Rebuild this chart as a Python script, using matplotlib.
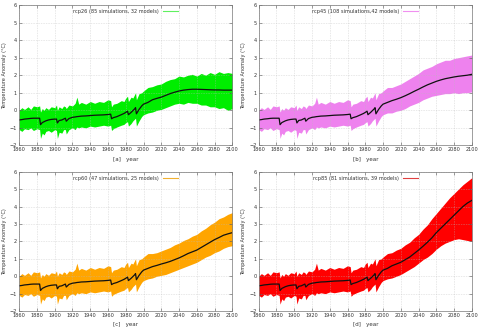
import matplotlib
matplotlib.use("Agg")
import matplotlib.pyplot as plt
import numpy as np

# ---------------- data ----------------
years_hist = [1860, 1863, 1866, 1870, 1873, 1876, 1880, 1883, 1884, 1886, 1888, 1890, 1893,
              1896, 1900, 1902, 1903, 1905, 1908, 1910, 1912, 1913, 1916, 1920, 1923, 1925,
              1927, 1930, 1935, 1940, 1945, 1950, 1955, 1960, 1963, 1964, 1966, 1970, 1975,
              1978, 1980, 1982, 1983, 1986, 1988, 1990, 1991, 1992, 1995, 1998, 2000, 2005]
mean_hist = [-0.55, -0.53, -0.5, -0.48, -0.46, -0.45, -0.45, -0.45, -0.82, -0.7, -0.65, -0.6, -0.55,
             -0.52, -0.5, -0.5, -0.72, -0.58, -0.55, -0.5, -0.45, -0.62, -0.47, -0.4, -0.38, -0.36,
             -0.35, -0.33, -0.32, -0.3, -0.28, -0.27, -0.26, -0.24, -0.22, -0.48, -0.42, -0.36, -0.25,
             -0.18, -0.12, -0.05, -0.25, -0.12, -0.02, 0.08, 0.15, -0.2, 0.05, 0.25, 0.35, 0.45]
upper_hist = [0.0, 0.15, 0.05, 0.2, 0.05, 0.25, 0.2, 0.25, -0.1, 0.1, 0.0, 0.15, 0.05,
              0.2, 0.15, 0.3, 0.0, 0.2, 0.1, 0.25, 0.2, 0.1, 0.3, 0.25, 0.4, 0.75,
              0.35, 0.45, 0.35, 0.5, 0.4, 0.5, 0.45, 0.6, 0.55, 0.2, 0.35, 0.4, 0.55,
              0.5, 0.7, 0.8, 0.5, 0.75, 0.7, 0.9, 1.0, 0.6, 0.95, 1.0, 1.1, 1.3]
lower_hist = [-1.1, -1.2, -1.05, -1.1, -1.0, -1.15, -1.05, -1.1, -1.6, -1.3, -1.4, -1.2, -1.15,
              -1.25, -1.1, -1.15, -1.6, -1.25, -1.3, -1.1, -1.1, -1.35, -1.1, -1.0, -1.1, -0.95,
              -1.0, -0.95, -1.0, -0.9, -0.95, -0.9, -0.85, -0.9, -0.85, -1.15, -1.05, -0.95, -0.85,
              -0.8, -0.7, -0.65, -0.9, -0.75, -0.6, -0.5, -0.45, -0.9, -0.6, -0.35, -0.25, -0.15]

years_fut = [2010, 2015, 2020, 2025, 2030, 2035, 2040, 2045, 2050, 2055, 2060, 2065, 2070,
             2075, 2080, 2085, 2090, 2095, 2100]

rcp26_mean = [0.6, 0.68, 0.75, 0.85, 0.95, 1.03, 1.1, 1.15, 1.18, 1.2, 1.2, 1.19, 1.18,
              1.17, 1.16, 1.16, 1.15, 1.15, 1.15]
rcp26_upper = [1.35, 1.45, 1.5, 1.65, 1.75, 1.8, 1.95, 1.9, 2.0, 2.05, 1.95, 2.1, 2.0,
               2.15, 2.05, 2.2, 2.1, 2.15, 2.1]
rcp26_lower = [-0.1, 0.0, 0.05, 0.15, 0.25, 0.35, 0.4, 0.35, 0.45, 0.4, 0.4, 0.3, 0.3,
               0.2, 0.2, 0.1, 0.15, 0.0, 0.1]

rcp45_mean = [0.55, 0.63, 0.72, 0.83, 0.95, 1.08, 1.2, 1.33, 1.45, 1.55, 1.65, 1.73, 1.8,
              1.85, 1.9, 1.94, 1.97, 2.0, 2.05]
rcp45_upper = [1.3, 1.4, 1.5, 1.65, 1.8, 1.95, 2.1, 2.3, 2.4, 2.5, 2.65, 2.75, 2.85,
               2.85, 2.95, 3.0, 3.05, 3.1, 3.15]
rcp45_lower = [-0.15, -0.05, 0.0, 0.1, 0.25, 0.35, 0.45, 0.6, 0.7, 0.8, 0.85, 0.9, 0.95,
               0.95, 1.0, 0.95, 1.0, 1.0, 1.05]

rcp60_mean = [0.55, 0.62, 0.7, 0.77, 0.85, 0.95, 1.05, 1.17, 1.3, 1.4, 1.5, 1.65, 1.8,
              1.95, 2.1, 2.22, 2.35, 2.43, 2.5]
rcp60_upper = [1.3, 1.35, 1.45, 1.55, 1.65, 1.8, 1.9, 2.05, 2.15, 2.3, 2.4, 2.6, 2.75,
               2.95, 3.1, 3.3, 3.4, 3.55, 3.65]
rcp60_lower = [-0.1, 0.0, 0.05, 0.1, 0.2, 0.3, 0.4, 0.5, 0.6, 0.7, 0.8, 0.95, 1.1,
               1.2, 1.35, 1.45, 1.6, 1.7, 1.75]

rcp85_mean = [0.6, 0.7, 0.8, 0.95, 1.1, 1.3, 1.5, 1.72, 1.95, 2.2, 2.5, 2.75, 3.0,
              3.25, 3.5, 3.75, 4.0, 4.2, 4.35]
rcp85_upper = [1.35, 1.5, 1.6, 1.8, 1.95, 2.2, 2.4, 2.7, 2.95, 3.3, 3.6, 3.9, 4.2,
               4.5, 4.75, 5.0, 5.25, 5.45, 5.65]
rcp85_lower = [-0.1, 0.0, 0.1, 0.25, 0.4, 0.55, 0.75, 0.95, 1.1, 1.3, 1.55, 1.75, 1.9,
               2.0, 2.1, 2.15, 2.1, 2.05, 2.0]

labels = ["rcp26 (85 simulations, 32 models)", "rcp45 (108 simulations,42 models)",
          "rcp60 (47 simulations, 25 models)", "rcp85 (81 simulations, 39 models)"]
panel_tags = ["[a]", "[b]", "[c]", "[d]"]
colors = ["#00ee00", "#ee82ee", "#ffa500", "#ff0000"]
legend_colors = ["#60f060", "#f090f0", "#f0b030", "#e04040"]

means = [rcp26_mean, rcp45_mean, rcp60_mean, rcp85_mean]
uppers = [rcp26_upper, rcp45_upper, rcp60_upper, rcp85_upper]
lowers = [rcp26_lower, rcp45_lower, rcp60_lower, rcp85_lower]

xticks = list(range(1860, 2101, 20))
yticks = list(range(-2, 7))

# ---------------- figure ----------------
fig = plt.figure(figsize=(4.8, 3.32), dpi=100)
positions = [(0.040, 0.562, 0.444, 0.423), (0.539, 0.562, 0.444, 0.423),
             (0.040, 0.063, 0.444, 0.420), (0.539, 0.063, 0.444, 0.420)]

fs = 3.6
for i in range(4):
    ax = fig.add_axes(positions[i])
    yrs = np.array(years_hist + years_fut)
    m = np.array(mean_hist + means[i])
    up = np.array(upper_hist + uppers[i])
    lo = np.array(lower_hist + lowers[i])
    ax.fill_between(yrs, lo, up, color=colors[i], lw=0)
    ax.plot(yrs, m, color="#111111", lw=0.9)
    ax.plot([], [], color=legend_colors[i], lw=0.8, label=labels[i])
    ax.set_xlim(1860, 2100)
    ax.set_ylim(-2, 6)
    ax.set_xticks(xticks)
    ax.set_yticks(yticks)
    ax.tick_params(direction="in", length=2, width=0.4, labelsize=fs, pad=1.5,
                   top=True, right=True, colors="#555555", labelcolor="#333333")
    ax.grid(True, color="#bbbbbb", lw=0.4, ls=(0, (1, 2)))
    for s in ax.spines.values():
        s.set_linewidth(0.5)
        s.set_color("#777777")
    ax.set_xlabel(panel_tags[i] + "   year", fontsize=fs + 0.4, labelpad=3, color="#333333")
    ax.set_ylabel("Temperature Anomaly (°C)", fontsize=fs, labelpad=2, color="#333333")
    leg = ax.legend(loc="upper center", frameon=False, fontsize=fs, handlelength=3.0,
                    markerfirst=False, borderaxespad=0.4, handletextpad=0.8)
    for t in leg.get_texts():
        t.set_color("#333333")

fig.savefig("out.png", dpi=100, facecolor="white")
